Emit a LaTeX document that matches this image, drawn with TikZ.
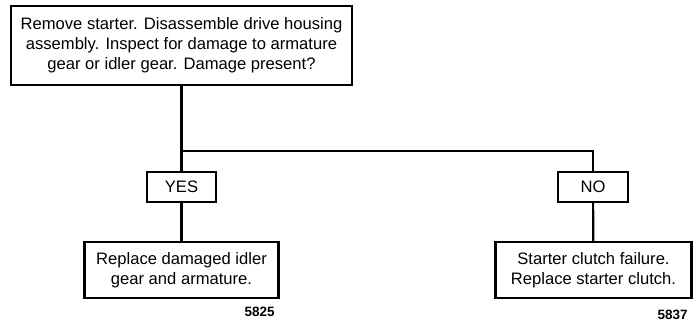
\documentclass[tikz,border=0pt]{standalone}
\usepackage{fontspec}
\setmainfont{Liberation Sans}
\begin{document}
\begin{tikzpicture}[
   x=1pt,y=-1pt,
   stepbox/.style={draw,line width=2.2pt,align=center,inner sep=2pt,font=\fontsize{16.6}{19.8}\selectfont},
   answer/.style={draw,line width=2.2pt,inner sep=2pt,font=\fontsize{16.6}{19.8}\selectfont},
   fignum/.style={anchor=east,font=\bfseries\fontsize{13.5}{15}\selectfont},
   every path/.style={line width=2.2pt}
 ]
  \useasboundingbox (0,0) rectangle (693,326);
  \node[stepbox,minimum width=341pt,minimum height=79pt] (check) at (181.5,45.5)
    {Remove starter. Disassemble drive housing\\assembly. Inspect for damage to armature\\gear or idler gear. Damage present?};

  \node[answer,minimum width=69pt,minimum height=30pt] (yes) at (181.5,187) {YES};
  \node[answer,minimum width=70pt,minimum height=30pt] (no) at (593,187) {NO};

  \node[stepbox,minimum width=194pt,minimum height=56pt] (fixgear) at (181.5,270)
    {Replace damaged idler\\gear and armature.};
  \node[stepbox,minimum width=196pt,minimum height=56pt] (fixclutch) at (593.5,270)
    {Starter clutch failure.\\Replace starter clutch.};

  \node[fignum] (num1) at (279,312) {5825};
  \node[fignum] (num2) at (692,315) {5837};

  \coordinate (split) at (181.5,151);
  \draw (check) -- (yes);
  \draw (split) -| (no);
  \draw (yes) -- (fixgear);
  \draw (no) -- (fixclutch);
 \end{tikzpicture}
\end{document}
